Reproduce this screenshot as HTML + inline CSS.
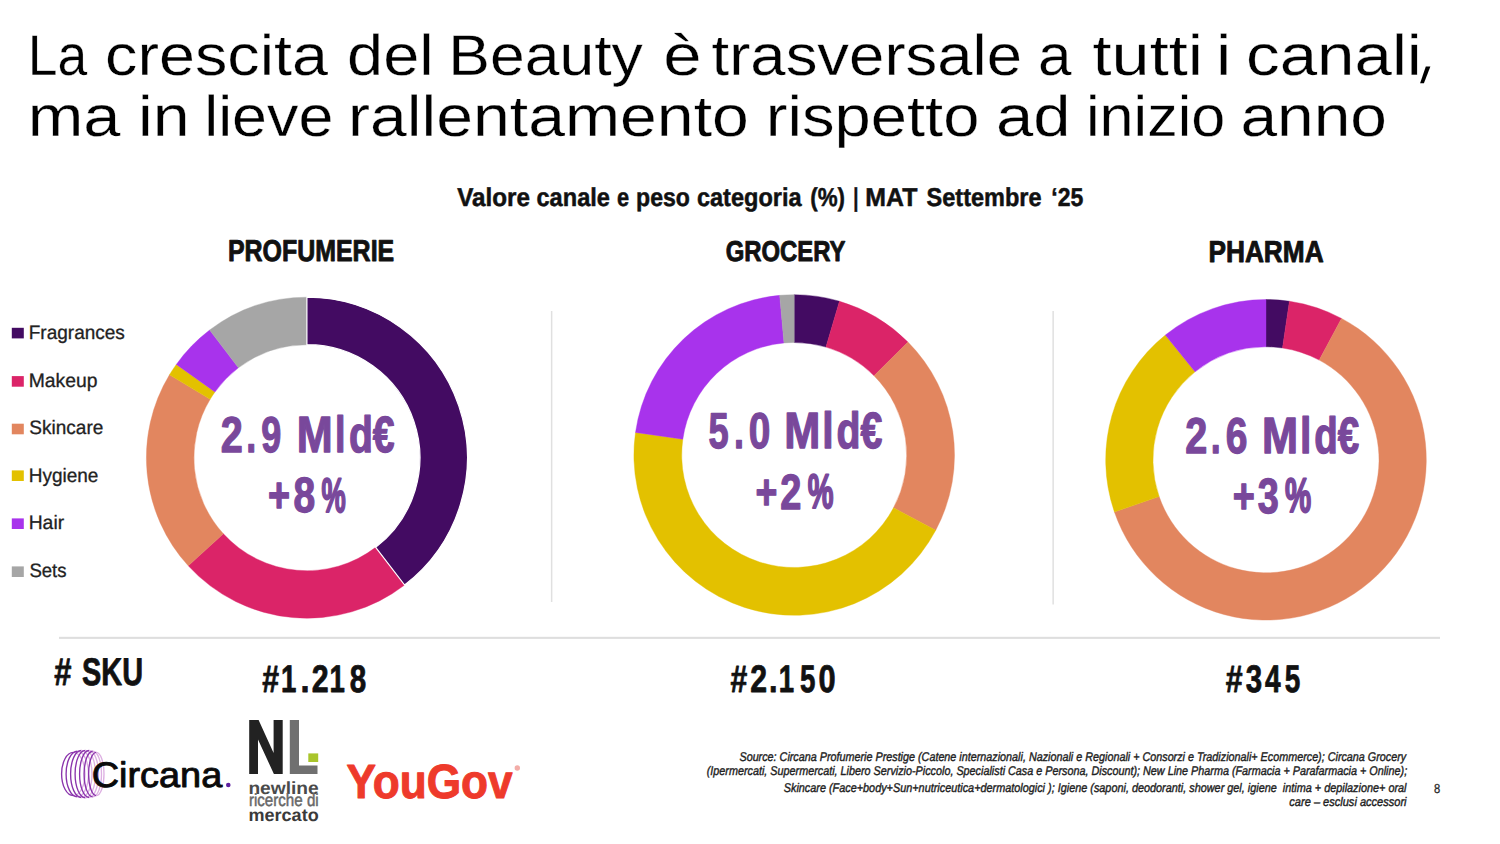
<!DOCTYPE html>
<html lang="it">
<head>
<meta charset="utf-8">
<title>La crescita del Beauty è trasversale a tutti i canali</title>
<style>
html,body{margin:0;padding:0;background:#fff;}
body{width:1500px;height:844px;overflow:hidden;font-family:"Liberation Sans", sans-serif;}
svg{display:block;}
</style>
</head>
<body>
<svg width="1500" height="844" viewBox="0 0 1500 844" font-family='"Liberation Sans", sans-serif' text-rendering="geometricPrecision">
<rect width="1500" height="844" fill="#fff"/>
<!-- divider lines -->
<rect x="550.9" y="311" width="1.5" height="291" fill="#E0E0E0"/>
<rect x="1052.4" y="311" width="1.5" height="293.5" fill="#E0E0E0"/>
<rect x="59" y="636.8" width="1381" height="2.1" fill="#DEDEDE"/>
<!-- donuts -->
<path d="M404.61 585.03A160.5 160.5 0 0 1 188.28 565.82L223.39 533.82A113.0 113.0 0 0 0 375.69 547.35Z" fill="#DB2468" stroke="#DB2468" stroke-width="0.4"/>
<path d="M188.28 565.82A160.5 160.5 0 0 1 169.47 374.80L210.14 399.33A113.0 113.0 0 0 0 223.39 533.82Z" fill="#E2865F" stroke="#E2865F" stroke-width="0.4"/>
<path d="M169.47 374.80A160.5 160.5 0 0 1 176.32 364.38L214.96 392.00A113.0 113.0 0 0 0 210.14 399.33Z" fill="#E3C100" stroke="#E3C100" stroke-width="0.4"/>
<path d="M176.32 364.38A160.5 160.5 0 0 1 209.64 330.03L238.42 367.81A113.0 113.0 0 0 0 214.96 392.00Z" fill="#A833EC" stroke="#A833EC" stroke-width="0.4"/>
<path d="M209.64 330.03A160.5 160.5 0 0 1 306.90 297.20L306.90 344.70A113.0 113.0 0 0 0 238.42 367.81Z" fill="#A6A6A6" stroke="#A6A6A6" stroke-width="0.4"/>
<path d="M306.90 297.20A160.5 160.5 0 0 1 404.61 585.03L375.69 547.35A113.0 113.0 0 0 0 306.90 344.70Z" fill="#430B62" stroke="#fff" stroke-width="1.2"/>
<path d="M794.20 294.70A160.3 160.3 0 0 1 839.46 301.22L825.96 347.08A112.5 112.5 0 0 0 794.20 342.50Z" fill="#430B62" stroke="#430B62" stroke-width="0.4"/>
<path d="M839.46 301.22A160.3 160.3 0 0 1 907.94 342.05L874.03 375.73A112.5 112.5 0 0 0 825.96 347.08Z" fill="#DB2468" stroke="#DB2468" stroke-width="0.4"/>
<path d="M907.94 342.05A160.3 160.3 0 0 1 935.74 530.26L893.53 507.82A112.5 112.5 0 0 0 874.03 375.73Z" fill="#E2865F" stroke="#E2865F" stroke-width="0.4"/>
<path d="M935.74 530.26A160.3 160.3 0 0 1 635.50 432.41L682.82 439.15A112.5 112.5 0 0 0 893.53 507.82Z" fill="#E3C100" stroke="#E3C100" stroke-width="0.4"/>
<path d="M635.50 432.41A160.3 160.3 0 0 1 779.67 295.36L784.00 342.96A112.5 112.5 0 0 0 682.82 439.15Z" fill="#A833EC" stroke="#A833EC" stroke-width="0.4"/>
<path d="M779.67 295.36A160.3 160.3 0 0 1 794.20 294.70L794.20 342.50A112.5 112.5 0 0 0 784.00 342.96Z" fill="#A6A6A6" stroke="#A6A6A6" stroke-width="0.4"/>
<path d="M1266.00 299.50A160.3 160.3 0 0 1 1289.42 301.22L1282.51 348.01A113.0 113.0 0 0 0 1266.00 346.80Z" fill="#430B62" stroke="#430B62" stroke-width="0.4"/>
<path d="M1289.42 301.22A160.3 160.3 0 0 1 1341.50 318.40L1319.22 360.12A113.0 113.0 0 0 0 1282.51 348.01Z" fill="#DB2468" stroke="#DB2468" stroke-width="0.4"/>
<path d="M1341.50 318.40A160.3 160.3 0 1 1 1114.43 511.99L1159.16 496.59A113.0 113.0 0 1 0 1319.22 360.12Z" fill="#E2865F" stroke="#E2865F" stroke-width="0.4"/>
<path d="M1114.43 511.99A160.3 160.3 0 0 1 1165.34 335.05L1195.04 371.86A113.0 113.0 0 0 0 1159.16 496.59Z" fill="#E3C100" stroke="#E3C100" stroke-width="0.4"/>
<path d="M1165.34 335.05A160.3 160.3 0 0 1 1266.00 299.50L1266.00 346.80A113.0 113.0 0 0 0 1195.04 371.86Z" fill="#A833EC" stroke="#A833EC" stroke-width="0.4"/>
<!-- legend -->
<rect x="11.8" y="327.8" width="12" height="10.6" fill="#430B62"/>
<rect x="11.8" y="376.1" width="12" height="10.6" fill="#DB2468"/>
<rect x="11.8" y="423.7" width="12" height="10.6" fill="#E2865F"/>
<rect x="11.8" y="470.4" width="12" height="10.6" fill="#E3C100"/>
<rect x="11.8" y="518.4" width="12" height="10.6" fill="#A833EC"/>
<rect x="11.8" y="566.4" width="12" height="10.6" fill="#A6A6A6"/>
<!-- logos -->
<g fill="none" stroke-width="1.35"><path d="M73.30 752.40A11.70 21.6 0 0 0 73.30 795.60" stroke="#8A34AC"/><path d="M73.30 752.40A11.70 21.6 0 0 1 73.30 795.60" stroke="#DDB0E2"/><path d="M77.30 751.20A11.20 22.8 0 0 0 77.30 796.80" stroke="#8A34AC"/><path d="M77.30 751.20A11.20 22.8 0 0 1 77.30 796.80" stroke="#DDB0E2"/><path d="M81.30 750.50A10.70 23.5 0 0 0 81.30 797.50" stroke="#8A34AC"/><path d="M81.30 750.50A10.70 23.5 0 0 1 81.30 797.50" stroke="#DDB0E2"/><path d="M85.30 750.30A10.20 23.7 0 0 0 85.30 797.70" stroke="#8A34AC"/><path d="M85.30 750.30A10.20 23.7 0 0 1 85.30 797.70" stroke="#DDB0E2"/><path d="M89.05 750.50A9.45 23.5 0 0 0 89.05 797.50" stroke="#8A34AC"/><path d="M89.05 750.50A9.45 23.5 0 0 1 89.05 797.50" stroke="#DDB0E2"/><path d="M92.80 751.20A8.70 22.8 0 0 0 92.80 796.80" stroke="#8A34AC"/><path d="M92.80 751.20A8.70 22.8 0 0 1 92.80 796.80" stroke="#DDB0E2"/><path d="M96.30 752.40A7.70 21.6 0 0 0 96.30 795.60" stroke="#8A34AC"/><path d="M96.30 752.40A7.70 21.6 0 0 1 96.30 795.60" stroke="#DDB0E2"/></g>

<path d="M249.2 720H258.6L273.6 753V720H282.7V774H273.9L258.0 739.5V774H249.2Z" fill="#222"/>
<path d="M289.8 720H299V765.5H317.5V774H289.8Z" fill="#707070"/>
<rect x="308.3" y="753.4" width="9.9" height="8.6" fill="#A9C52B"/>

<circle cx="228.3" cy="785.0" r="2.3" fill="#5B1FA0"/>
<circle cx="517.3" cy="768.0" r="2.7" fill="#F3ADA8"/>
<path d="M1425.8 66.6H1430.4L1423.9 83.2H1420.1Z" fill="#000"/>
<!-- text -->
<text x="27.68" y="74.55" font-size="57.41" textLength="59.44" lengthAdjust="spacingAndGlyphs" fill="#000" stroke="#fff" stroke-width="0.30" xml:space="preserve">La</text>
<text x="105.13" y="74.55" font-size="57.41" textLength="222.91" lengthAdjust="spacingAndGlyphs" fill="#000" stroke="#fff" stroke-width="0.30" xml:space="preserve">crescita</text>
<text x="347.12" y="74.55" font-size="57.41" textLength="86.61" lengthAdjust="spacingAndGlyphs" fill="#000" stroke="#fff" stroke-width="0.30" xml:space="preserve">del</text>
<text x="448.27" y="74.55" font-size="57.41" textLength="194.58" lengthAdjust="spacingAndGlyphs" fill="#000" stroke="#fff" stroke-width="0.30" xml:space="preserve">Beauty</text>
<text x="663.36" y="74.55" font-size="57.41" textLength="38.32" lengthAdjust="spacingAndGlyphs" fill="#000" stroke="#fff" stroke-width="0.30" xml:space="preserve">è</text>
<text x="711.55" y="74.55" font-size="57.41" textLength="310.47" lengthAdjust="spacingAndGlyphs" fill="#000" stroke="#fff" stroke-width="0.30" xml:space="preserve">trasversale</text>
<text x="1037.97" y="74.55" font-size="57.41" textLength="33.50" lengthAdjust="spacingAndGlyphs" fill="#000" stroke="#fff" stroke-width="0.30" xml:space="preserve">a</text>
<text x="1092.55" y="74.55" font-size="57.41" textLength="110.42" lengthAdjust="spacingAndGlyphs" fill="#000" stroke="#fff" stroke-width="0.30" xml:space="preserve">tutti</text>
<text x="1216.11" y="74.55" font-size="57.41" textLength="15.31" lengthAdjust="spacingAndGlyphs" fill="#000" stroke="#fff" stroke-width="0.30" xml:space="preserve">i</text>
<text x="1246.05" y="74.55" font-size="57.41" textLength="175.74" lengthAdjust="spacingAndGlyphs" fill="#000" stroke="#fff" stroke-width="0.30" xml:space="preserve">canali</text>
<text x="27.68" y="135.75" font-size="57.41" textLength="92.75" lengthAdjust="spacingAndGlyphs" fill="#000" stroke="#fff" stroke-width="0.30" xml:space="preserve">ma</text>
<text x="138.01" y="135.75" font-size="57.41" textLength="51.56" lengthAdjust="spacingAndGlyphs" fill="#000" stroke="#fff" stroke-width="0.30" xml:space="preserve">in</text>
<text x="204.22" y="135.75" font-size="57.41" textLength="129.17" lengthAdjust="spacingAndGlyphs" fill="#000" stroke="#fff" stroke-width="0.30" xml:space="preserve">lieve</text>
<text x="348.02" y="135.75" font-size="57.41" textLength="400.82" lengthAdjust="spacingAndGlyphs" fill="#000" stroke="#fff" stroke-width="0.30" xml:space="preserve">rallentamento</text>
<text x="765.78" y="135.75" font-size="57.41" textLength="213.71" lengthAdjust="spacingAndGlyphs" fill="#000" stroke="#fff" stroke-width="0.30" xml:space="preserve">rispetto</text>
<text x="996.06" y="135.75" font-size="57.41" textLength="74.56" lengthAdjust="spacingAndGlyphs" fill="#000" stroke="#fff" stroke-width="0.30" xml:space="preserve">ad</text>
<text x="1086.03" y="135.75" font-size="57.41" textLength="139.30" lengthAdjust="spacingAndGlyphs" fill="#000" stroke="#fff" stroke-width="0.30" xml:space="preserve">inizio</text>
<text x="1240.49" y="135.75" font-size="57.41" textLength="146.53" lengthAdjust="spacingAndGlyphs" fill="#000" stroke="#fff" stroke-width="0.30" xml:space="preserve">anno</text>
<text x="457.25" y="206.05" font-size="25.73" textLength="72.70" lengthAdjust="spacingAndGlyphs" fill="#111" font-weight="bold" stroke="#111" stroke-width="0.50" stroke-linejoin="round" xml:space="preserve">Valore</text>
<text x="536.51" y="206.05" font-size="25.73" textLength="73.42" lengthAdjust="spacingAndGlyphs" fill="#111" font-weight="bold" stroke="#111" stroke-width="0.50" stroke-linejoin="round" xml:space="preserve">canale</text>
<text x="617.07" y="206.05" font-size="25.73" textLength="12.12" lengthAdjust="spacingAndGlyphs" fill="#111" font-weight="bold" stroke="#111" stroke-width="0.50" stroke-linejoin="round" xml:space="preserve">e</text>
<text x="636.11" y="206.05" font-size="25.73" textLength="53.79" lengthAdjust="spacingAndGlyphs" fill="#111" font-weight="bold" stroke="#111" stroke-width="0.50" stroke-linejoin="round" xml:space="preserve">peso</text>
<text x="696.91" y="206.05" font-size="25.73" textLength="104.69" lengthAdjust="spacingAndGlyphs" fill="#111" font-weight="bold" stroke="#111" stroke-width="0.50" stroke-linejoin="round" xml:space="preserve">categoria</text>
<text x="810.20" y="206.05" font-size="25.73" textLength="34.76" lengthAdjust="spacingAndGlyphs" fill="#111" font-weight="bold" stroke="#111" stroke-width="0.50" stroke-linejoin="round" xml:space="preserve">(%)</text>
<text x="853.19" y="206.05" font-size="25.73" textLength="5.19" lengthAdjust="spacingAndGlyphs" fill="#111" font-weight="bold" stroke="#111" stroke-width="0.50" stroke-linejoin="round" xml:space="preserve">|</text>
<text x="865.29" y="206.05" font-size="25.73" textLength="52.09" lengthAdjust="spacingAndGlyphs" fill="#111" font-weight="bold" stroke="#111" stroke-width="0.50" stroke-linejoin="round" xml:space="preserve">MAT</text>
<text x="926.58" y="206.05" font-size="25.73" textLength="114.95" lengthAdjust="spacingAndGlyphs" fill="#111" font-weight="bold" stroke="#111" stroke-width="0.50" stroke-linejoin="round" xml:space="preserve">Settembre</text>
<text x="1051.31" y="206.05" font-size="25.73" textLength="32.01" lengthAdjust="spacingAndGlyphs" fill="#111" font-weight="bold" stroke="#111" stroke-width="0.50" stroke-linejoin="round" xml:space="preserve">‘25</text>
<text x="227.89" y="260.75" font-size="30.09" textLength="166.32" lengthAdjust="spacingAndGlyphs" fill="#111" font-weight="bold" stroke="#111" stroke-width="0.90" stroke-linejoin="round" xml:space="preserve">PROFUMERIE</text>
<text x="725.70" y="260.55" font-size="28.63" textLength="119.80" lengthAdjust="spacingAndGlyphs" fill="#111" font-weight="bold" stroke="#111" stroke-width="0.90" stroke-linejoin="round" xml:space="preserve">GROCERY</text>
<text x="1208.41" y="261.85" font-size="30.38" textLength="115.24" lengthAdjust="spacingAndGlyphs" fill="#111" font-weight="bold" stroke="#111" stroke-width="0.90" stroke-linejoin="round" xml:space="preserve">PHARMA</text>
<text x="28.69" y="339.15" font-size="19.48" textLength="96.19" lengthAdjust="spacingAndGlyphs" fill="#222" stroke="#222" stroke-width="0.30" stroke-linejoin="round" xml:space="preserve">Fragrances</text>
<text x="28.66" y="387.15" font-size="19.48" textLength="68.82" lengthAdjust="spacingAndGlyphs" fill="#222" stroke="#222" stroke-width="0.30" stroke-linejoin="round" xml:space="preserve">Makeup</text>
<text x="29.37" y="434.25" font-size="19.48" textLength="73.99" lengthAdjust="spacingAndGlyphs" fill="#222" stroke="#222" stroke-width="0.30" stroke-linejoin="round" xml:space="preserve">Skincare</text>
<text x="28.69" y="481.85" font-size="19.48" textLength="69.67" lengthAdjust="spacingAndGlyphs" fill="#222" stroke="#222" stroke-width="0.30" stroke-linejoin="round" xml:space="preserve">Hygiene</text>
<text x="28.66" y="528.95" font-size="19.48" textLength="35.47" lengthAdjust="spacingAndGlyphs" fill="#222" stroke="#222" stroke-width="0.30" stroke-linejoin="round" xml:space="preserve">Hair</text>
<text x="29.39" y="576.95" font-size="19.48" textLength="37.17" lengthAdjust="spacingAndGlyphs" fill="#222" stroke="#222" stroke-width="0.30" stroke-linejoin="round" xml:space="preserve">Sets</text>
<text x="220.71" y="451.75" font-size="50.44" textLength="22.02" lengthAdjust="spacingAndGlyphs" fill="#79489B" font-weight="bold" stroke="#79489B" stroke-width="1.30" stroke-linejoin="round" xml:space="preserve">2</text>
<text x="246.21" y="451.75" font-size="50.44" textLength="9.96" lengthAdjust="spacingAndGlyphs" fill="#79489B" font-weight="bold" stroke="#79489B" stroke-width="1.30" stroke-linejoin="round" xml:space="preserve">.</text>
<text x="261.13" y="451.75" font-size="50.44" textLength="20.02" lengthAdjust="spacingAndGlyphs" fill="#79489B" font-weight="bold" stroke="#79489B" stroke-width="1.30" stroke-linejoin="round" xml:space="preserve">9</text>
<text x="296.65" y="451.75" font-size="50.87" textLength="35.93" lengthAdjust="spacingAndGlyphs" fill="#79489B" font-weight="bold" stroke="#79489B" stroke-width="1.30" stroke-linejoin="round" xml:space="preserve">M</text>
<text x="334.99" y="451.75" font-size="50.87" textLength="10.49" lengthAdjust="spacingAndGlyphs" fill="#79489B" font-weight="bold" stroke="#79489B" stroke-width="1.30" stroke-linejoin="round" xml:space="preserve">l</text>
<text x="348.93" y="451.75" font-size="50.87" textLength="45.69" lengthAdjust="spacingAndGlyphs" fill="#79489B" font-weight="bold" stroke="#79489B" stroke-width="1.30" stroke-linejoin="round" xml:space="preserve">d€</text>
<text x="268.07" y="511.85" font-size="49.71" textLength="22.09" lengthAdjust="spacingAndGlyphs" fill="#79489B" font-weight="bold" stroke="#79489B" stroke-width="1.30" stroke-linejoin="round" xml:space="preserve">+</text>
<text x="293.43" y="511.85" font-size="49.71" textLength="21.69" lengthAdjust="spacingAndGlyphs" fill="#79489B" font-weight="bold" stroke="#79489B" stroke-width="1.30" stroke-linejoin="round" xml:space="preserve">8</text>
<text x="321.57" y="511.50" font-size="48.69" textLength="24.21" lengthAdjust="spacingAndGlyphs" fill="#79489B" font-weight="bold" stroke="#79489B" stroke-width="2.00" stroke-linejoin="round" xml:space="preserve">%</text>
<text x="708.58" y="448.25" font-size="50.44" textLength="20.17" lengthAdjust="spacingAndGlyphs" fill="#79489B" font-weight="bold" stroke="#79489B" stroke-width="1.30" stroke-linejoin="round" xml:space="preserve">5</text>
<text x="733.91" y="448.25" font-size="50.44" textLength="9.96" lengthAdjust="spacingAndGlyphs" fill="#79489B" font-weight="bold" stroke="#79489B" stroke-width="1.30" stroke-linejoin="round" xml:space="preserve">.</text>
<text x="748.74" y="448.25" font-size="50.44" textLength="21.59" lengthAdjust="spacingAndGlyphs" fill="#79489B" font-weight="bold" stroke="#79489B" stroke-width="1.30" stroke-linejoin="round" xml:space="preserve">0</text>
<text x="784.25" y="448.25" font-size="50.87" textLength="36.04" lengthAdjust="spacingAndGlyphs" fill="#79489B" font-weight="bold" stroke="#79489B" stroke-width="1.30" stroke-linejoin="round" xml:space="preserve">M</text>
<text x="822.19" y="448.25" font-size="50.87" textLength="11.38" lengthAdjust="spacingAndGlyphs" fill="#79489B" font-weight="bold" stroke="#79489B" stroke-width="1.30" stroke-linejoin="round" xml:space="preserve">l</text>
<text x="836.52" y="448.25" font-size="50.87" textLength="45.79" lengthAdjust="spacingAndGlyphs" fill="#79489B" font-weight="bold" stroke="#79489B" stroke-width="1.30" stroke-linejoin="round" xml:space="preserve">d€</text>
<text x="755.48" y="508.65" font-size="49.71" textLength="21.86" lengthAdjust="spacingAndGlyphs" fill="#79489B" font-weight="bold" stroke="#79489B" stroke-width="1.30" stroke-linejoin="round" xml:space="preserve">+</text>
<text x="780.36" y="508.65" font-size="49.71" textLength="21.13" lengthAdjust="spacingAndGlyphs" fill="#79489B" font-weight="bold" stroke="#79489B" stroke-width="1.30" stroke-linejoin="round" xml:space="preserve">2</text>
<text x="807.65" y="508.30" font-size="48.69" textLength="25.76" lengthAdjust="spacingAndGlyphs" fill="#79489B" font-weight="bold" stroke="#79489B" stroke-width="2.00" stroke-linejoin="round" xml:space="preserve">%</text>
<text x="1185.31" y="452.55" font-size="50.44" textLength="22.02" lengthAdjust="spacingAndGlyphs" fill="#79489B" font-weight="bold" stroke="#79489B" stroke-width="1.30" stroke-linejoin="round" xml:space="preserve">2</text>
<text x="1210.81" y="452.55" font-size="50.44" textLength="9.96" lengthAdjust="spacingAndGlyphs" fill="#79489B" font-weight="bold" stroke="#79489B" stroke-width="1.30" stroke-linejoin="round" xml:space="preserve">.</text>
<text x="1225.73" y="452.55" font-size="50.44" textLength="21.69" lengthAdjust="spacingAndGlyphs" fill="#79489B" font-weight="bold" stroke="#79489B" stroke-width="1.30" stroke-linejoin="round" xml:space="preserve">6</text>
<text x="1261.95" y="452.55" font-size="50.87" textLength="36.04" lengthAdjust="spacingAndGlyphs" fill="#79489B" font-weight="bold" stroke="#79489B" stroke-width="1.30" stroke-linejoin="round" xml:space="preserve">M</text>
<text x="1299.89" y="452.55" font-size="50.87" textLength="11.38" lengthAdjust="spacingAndGlyphs" fill="#79489B" font-weight="bold" stroke="#79489B" stroke-width="1.30" stroke-linejoin="round" xml:space="preserve">l</text>
<text x="1314.35" y="452.55" font-size="50.87" textLength="44.86" lengthAdjust="spacingAndGlyphs" fill="#79489B" font-weight="bold" stroke="#79489B" stroke-width="1.30" stroke-linejoin="round" xml:space="preserve">d€</text>
<text x="1232.67" y="512.65" font-size="49.71" textLength="22.09" lengthAdjust="spacingAndGlyphs" fill="#79489B" font-weight="bold" stroke="#79489B" stroke-width="1.30" stroke-linejoin="round" xml:space="preserve">+</text>
<text x="1257.86" y="512.65" font-size="49.71" textLength="21.03" lengthAdjust="spacingAndGlyphs" fill="#79489B" font-weight="bold" stroke="#79489B" stroke-width="1.30" stroke-linejoin="round" xml:space="preserve">3</text>
<text x="1285.04" y="512.30" font-size="48.69" textLength="26.18" lengthAdjust="spacingAndGlyphs" fill="#79489B" font-weight="bold" stroke="#79489B" stroke-width="2.00" stroke-linejoin="round" xml:space="preserve">%</text>
<text x="54.22" y="684.90" font-size="38.52" textLength="17.17" lengthAdjust="spacingAndGlyphs" fill="#111" font-weight="bold" stroke="#111" stroke-width="0.80" stroke-linejoin="round" xml:space="preserve">#</text>
<text x="82.05" y="684.90" font-size="38.52" textLength="61.00" lengthAdjust="spacingAndGlyphs" fill="#111" font-weight="bold" stroke="#111" stroke-width="0.80" stroke-linejoin="round" xml:space="preserve">SKU</text>
<text x="262.23" y="691.70" font-size="38.37" textLength="16.75" lengthAdjust="spacingAndGlyphs" fill="#111" font-weight="bold" stroke="#111" stroke-width="0.80" stroke-linejoin="round" xml:space="preserve">#</text>
<text x="280.95" y="691.70" font-size="38.37" textLength="15.37" lengthAdjust="spacingAndGlyphs" fill="#111" font-weight="bold" stroke="#111" stroke-width="0.80" stroke-linejoin="round" xml:space="preserve">1</text>
<text x="300.56" y="691.70" font-size="38.37" textLength="9.07" lengthAdjust="spacingAndGlyphs" fill="#111" font-weight="bold" stroke="#111" stroke-width="0.80" stroke-linejoin="round" xml:space="preserve">.</text>
<text x="311.75" y="691.70" font-size="38.37" textLength="16.91" lengthAdjust="spacingAndGlyphs" fill="#111" font-weight="bold" stroke="#111" stroke-width="0.80" stroke-linejoin="round" xml:space="preserve">2</text>
<text x="329.55" y="691.70" font-size="38.37" textLength="15.37" lengthAdjust="spacingAndGlyphs" fill="#111" font-weight="bold" stroke="#111" stroke-width="0.80" stroke-linejoin="round" xml:space="preserve">1</text>
<text x="349.68" y="691.70" font-size="38.37" textLength="16.46" lengthAdjust="spacingAndGlyphs" fill="#111" font-weight="bold" stroke="#111" stroke-width="0.80" stroke-linejoin="round" xml:space="preserve">8</text>
<text x="730.53" y="691.70" font-size="38.37" textLength="16.75" lengthAdjust="spacingAndGlyphs" fill="#111" font-weight="bold" stroke="#111" stroke-width="0.80" stroke-linejoin="round" xml:space="preserve">#</text>
<text x="750.16" y="691.70" font-size="38.37" textLength="16.80" lengthAdjust="spacingAndGlyphs" fill="#111" font-weight="bold" stroke="#111" stroke-width="0.80" stroke-linejoin="round" xml:space="preserve">2</text>
<text x="768.98" y="691.70" font-size="38.37" textLength="8.54" lengthAdjust="spacingAndGlyphs" fill="#111" font-weight="bold" stroke="#111" stroke-width="0.80" stroke-linejoin="round" xml:space="preserve">.</text>
<text x="778.80" y="691.70" font-size="38.37" textLength="15.37" lengthAdjust="spacingAndGlyphs" fill="#111" font-weight="bold" stroke="#111" stroke-width="0.80" stroke-linejoin="round" xml:space="preserve">1</text>
<text x="800.07" y="691.70" font-size="38.37" textLength="15.42" lengthAdjust="spacingAndGlyphs" fill="#111" font-weight="bold" stroke="#111" stroke-width="0.80" stroke-linejoin="round" xml:space="preserve">5</text>
<text x="818.54" y="691.70" font-size="38.37" textLength="17.11" lengthAdjust="spacingAndGlyphs" fill="#111" font-weight="bold" stroke="#111" stroke-width="0.80" stroke-linejoin="round" xml:space="preserve">0</text>
<text x="1225.73" y="691.70" font-size="38.37" textLength="16.85" lengthAdjust="spacingAndGlyphs" fill="#111" font-weight="bold" stroke="#111" stroke-width="0.80" stroke-linejoin="round" xml:space="preserve">#</text>
<text x="1245.64" y="691.70" font-size="38.37" textLength="16.39" lengthAdjust="spacingAndGlyphs" fill="#111" font-weight="bold" stroke="#111" stroke-width="0.80" stroke-linejoin="round" xml:space="preserve">3</text>
<text x="1265.00" y="691.70" font-size="38.37" textLength="15.62" lengthAdjust="spacingAndGlyphs" fill="#111" font-weight="bold" stroke="#111" stroke-width="0.80" stroke-linejoin="round" xml:space="preserve">4</text>
<text x="1284.76" y="691.70" font-size="38.37" textLength="15.53" lengthAdjust="spacingAndGlyphs" fill="#111" font-weight="bold" stroke="#111" stroke-width="0.80" stroke-linejoin="round" xml:space="preserve">5</text>
<text x="739.44" y="761.10" font-size="12.60" textLength="666.76" lengthAdjust="spacingAndGlyphs" fill="#222" font-style="italic" stroke="#222" stroke-width="0.40" stroke-linejoin="round" xml:space="preserve">Source: Circana Profumerie Prestige (Catene internazionali, Nazionali e Regionali + Consorzi e Tradizionali+ Ecommerce); Circana Grocery</text>
<text x="706.77" y="774.80" font-size="12.60" textLength="700.37" lengthAdjust="spacingAndGlyphs" fill="#222" font-style="italic" stroke="#222" stroke-width="0.40" stroke-linejoin="round" xml:space="preserve">(Ipermercati, Supermercati, Libero Servizio-Piccolo, Specialisti Casa e Persona, Discount); New Line Pharma (Farmacia + Parafarmacia + Online);</text>
<text x="783.74" y="791.80" font-size="12.60" textLength="622.80" lengthAdjust="spacingAndGlyphs" fill="#222" font-style="italic" stroke="#222" stroke-width="0.40" stroke-linejoin="round" xml:space="preserve">Skincare (Face+body+Sun+nutriceutica+dermatologici ); Igiene (saponi, deodoranti, shower gel, igiene  intima + depilazione+ oral</text>
<text x="1289.35" y="805.80" font-size="12.60" textLength="117.19" lengthAdjust="spacingAndGlyphs" fill="#222" font-style="italic" stroke="#222" stroke-width="0.40" stroke-linejoin="round" xml:space="preserve">care – esclusi accessori</text>
<text x="1434.02" y="792.85" font-size="13.08" textLength="6.24" lengthAdjust="spacingAndGlyphs" fill="#2a2a2a" stroke="#2a2a2a" stroke-width="0.30" stroke-linejoin="round" xml:space="preserve">8</text>
<text x="91.67" y="786.55" font-size="35.47" textLength="130.54" lengthAdjust="spacingAndGlyphs" fill="#0a0a0a" stroke="#0a0a0a" stroke-width="0.90" stroke-linejoin="round" xml:space="preserve">Circana</text>
<text x="346.61" y="798.30" font-size="47.97" textLength="166.01" lengthAdjust="spacingAndGlyphs" fill="#EE3A2B" font-weight="bold" stroke="#EE3A2B" stroke-width="1.00" stroke-linejoin="round" xml:space="preserve">YouGov</text>
<text x="248.40" y="794.00" font-size="17.60" textLength="70.24" lengthAdjust="spacingAndGlyphs" fill="#4a4a4a" font-weight="bold" xml:space="preserve">newline</text>
<text x="248.90" y="806.45" font-size="17.60" textLength="69.80" lengthAdjust="spacingAndGlyphs" fill="#686868" stroke="#686868" stroke-width="0.50" stroke-linejoin="round" xml:space="preserve">ricerche di</text>
<text x="248.47" y="821.40" font-size="17.60" textLength="70.19" lengthAdjust="spacingAndGlyphs" fill="#3a3a3a" font-weight="bold" xml:space="preserve">mercato</text>
</svg>
</body>
</html>
